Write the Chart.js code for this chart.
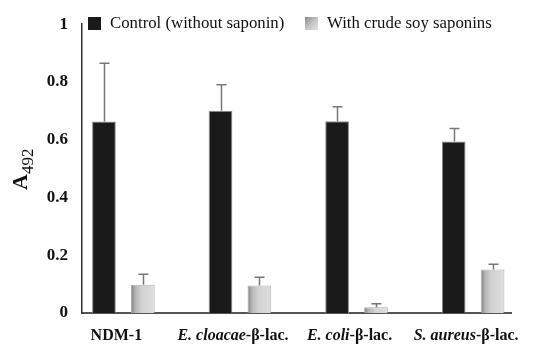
<!DOCTYPE html>
<html>
<head>
<meta charset="utf-8">
<script src="https://cdn.jsdelivr.net/npm/chart.js@4.4.0/dist/chart.umd.min.js"></script>
<style>
  body { margin: 0; background: #fff; }
  #wrap { width: 541px; height: 344px; }
</style>
</head>
<body>
<div id="wrap"><canvas id="myChart" width="541" height="344"></canvas></div>
<script>
// Datos
var categoryItalic = ['', 'E. cloacae', 'E. coli', 'S. aureus'];
var categorySuffix = ['NDM-1', '-β-lac.', '-β-lac.', '-β-lac.'];
var seriesNames = ['Control (without saponin)', 'With crude soy saponins'];
var controlValues = [0.663, 0.700, 0.664, 0.594];
var controlErrors = [0.202, 0.090, 0.050, 0.045];
var saponinValues = [0.098, 0.095, 0.020, 0.151];
var saponinErrors = [0.036, 0.029, 0.012, 0.018];
var yTicks = [0, 0.2, 0.4, 0.6, 0.8, 1];

var serif = '"Liberation Serif", "Times New Roman", serif';

function points(values) {
  return values.map(function (v, i) { return { x: i, y: v }; });
}

function greyGradient(ctx, left, right) {
  var g = ctx.createLinearGradient(left, 0, right, 0);
  g.addColorStop(0, '#7c7c7c');
  g.addColorStop(0.18, '#b4b4b4');
  g.addColorStop(0.45, '#d2d2d2');
  g.addColorStop(1, '#dedede');
  return g;
}

// Plugin: degradado, barras de error, leyenda y textos
var extras = {
  id: 'extras',
  beforeDatasetsDraw: function (chart) {
    var ctx = chart.ctx;
    chart.getDatasetMeta(1).data.forEach(function (bar) {
      var p = bar.getProps(['x', 'width'], true);
      bar.options = Object.assign({}, bar.options, {
        backgroundColor: greyGradient(ctx, p.x - p.width / 2, p.x + p.width / 2)
      });
    });
  },
  afterDatasetsDraw: function (chart) {
    var ctx = chart.ctx;
    var yScale = chart.scales.y;
    var errs = [controlErrors, saponinErrors];
    ctx.save();
    ctx.strokeStyle = '#777';
    ctx.lineWidth = 1.5;
    [0, 1].forEach(function (d) {
      var vals = chart.data.datasets[d].data;
      chart.getDatasetMeta(d).data.forEach(function (bar, i) {
        var x = Math.round(bar.x) + 0.5;
        var yTop = yScale.getPixelForValue(vals[i].y + errs[d][i]);
        ctx.beginPath();
        ctx.moveTo(x, bar.y);
        ctx.lineTo(x, yTop);
        ctx.moveTo(x - 5, yTop);
        ctx.lineTo(x + 5, yTop);
        ctx.stroke();
      });
    });
    ctx.restore();
  },
  afterDraw: function (chart) {
    var ctx = chart.ctx;
    var xScale = chart.scales.x;
    ctx.save();
    ctx.fillStyle = '#111';

    // etiquetas del eje x (cursiva + negrita)
    ctx.textBaseline = 'middle';
    ctx.textAlign = 'left';
    for (var i = 0; i < categorySuffix.length; i++) {
      var it = categoryItalic[i], su = categorySuffix[i];
      ctx.font = 'italic bold 16px ' + serif;
      var w1 = ctx.measureText(it).width;
      ctx.font = 'bold 16px ' + serif;
      var w2 = ctx.measureText(su).width;
      var cx = xScale.getPixelForValue(i) - 7;
      var x0 = cx - (w1 + w2) / 2;
      ctx.font = 'italic bold 16px ' + serif;
      ctx.fillText(it, x0, 336);
      ctx.font = 'bold 16px ' + serif;
      ctx.fillText(su, x0 + w1, 336);
    }

    // título del eje y: A492
    ctx.save();
    ctx.translate(27, 190);
    ctx.rotate(-Math.PI / 2);
    ctx.textBaseline = 'alphabetic';
    ctx.font = 'bold 22px ' + serif;
    ctx.fillText('A', 0, 0);
    var wA = ctx.measureText('A').width;
    ctx.font = '17px ' + serif;
    ctx.fillText('492', wA, 6);
    ctx.restore();

    // leyenda
    var lx = [88, 305];
    ctx.font = '16.8px ' + serif;
    ctx.textBaseline = 'middle';
    for (var d = 0; d < 2; d++) {
      if (d === 0) {
        ctx.fillStyle = '#1a1a1a';
      } else {
        var g = ctx.createLinearGradient(lx[d], 17, lx[d] + 13, 30);
        g.addColorStop(0, '#8a8a8a');
        g.addColorStop(0.5, '#c4c4c4');
        g.addColorStop(1, '#e2e2e2');
        ctx.fillStyle = g;
      }
      ctx.fillRect(lx[d], 17, 13, 13);
      ctx.fillStyle = '#111';
      ctx.fillText(seriesNames[d], lx[d] + 22, 23.5);
    }
    ctx.restore();
  }
};

var data = {
  datasets: [{
    label: seriesNames[0],
    data: points(controlValues),
    backgroundColor: '#1a1a1a',
    borderColor: '#8a8a8a',
    borderWidth: 1
  }, {
    label: seriesNames[1],
    data: points(saponinValues),
    backgroundColor: '#d0d0d0',
    borderColor: '#b0b0b0',
    borderWidth: 1
  }]
};

var options = {
  responsive: false,
  animation: false,
  layout: { padding: { top: 23, right: 30, left: 0, bottom: 0 } },
  categoryPercentage: 0.667,
  barPercentage: 0.61,
  plugins: {
    legend: { display: false },
    tooltip: { enabled: false }
  },
  scales: {
    x: {
      type: 'linear',
      offset: false,
      min: -0.355,
      max: 3.325,
      grid: { display: false, drawTicks: false },
      border: { display: true, color: '#555', width: 2 },
      afterBuildTicks: function (scale) {
        scale.ticks = categorySuffix.map(function (s, i) { return { value: i }; });
      },
      ticks: { display: false },
      afterFit: function (scale) { scale.height = 31; }
    },
    y: {
      min: 0,
      max: 1,
      grid: { display: false, drawTicks: false },
      border: { display: true, color: '#333', width: 1.5 },
      afterBuildTicks: function (scale) {
        scale.ticks = yTicks.map(function (v) { return { value: v }; });
      },
      ticks: {
        padding: 14,
        color: '#111',
        font: { family: serif, size: 17, weight: 'bold' },
        callback: function (v) { return String(v); }
      },
      afterFit: function (scale) { scale.width = 82; }
    }
  }
};

var ctx = document.getElementById('myChart').getContext('2d');
var myChart = new Chart(ctx, {
  type: 'bar',
  data: data,
  options: options,
  plugins: [extras]
});
</script>
</body>
</html>
